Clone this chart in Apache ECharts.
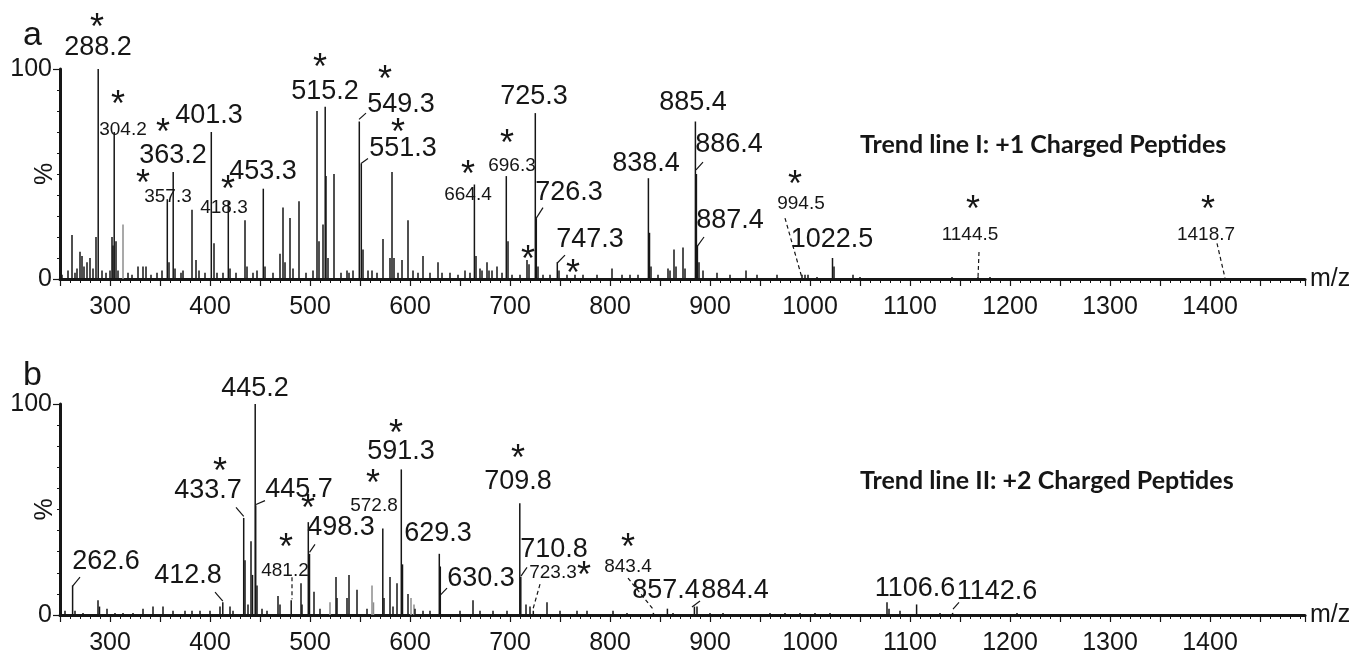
<!DOCTYPE html>
<html>
<head>
<meta charset="utf-8">
<script src="https://cdn.jsdelivr.net/npm/echarts@6/dist/echarts.min.js"></script>
<style>
  html, body { margin: 0; padding: 0; background: #fff; }
  #chart { width: 1358px; height: 656px; }
</style>
</head>
<body>
<div id="chart"></div>
<script>
  // panel a: +1 charged peptides, [m/z, relative intensity %]
  const peaksA = [
    [252, 2], [258, 4], [262, 21], [265, 3], [267, 5], [270, 13], [272, 11], [274, 6], [277, 8], [280, 10],
    [283, 5], [286, 20], [288.2, 100], [292, 4], [296, 3], [300, 4], [302, 20], [303, 16], [304.2, 70], [306, 18],
    [308, 4], [318, 3], [322, 2], [328, 6], [333, 6], [336, 6], [341, 2], [347, 3], [352, 4], [357.3, 38],
    [359, 8], [363.2, 51], [365, 5], [371, 3], [373, 4], [382, 33], [386, 9], [389, 4], [395, 3], [401.3, 70],
    [404, 17], [407, 3], [413, 3], [418.3, 37], [420, 5], [426, 3], [435, 28], [437, 6], [443, 3], [447, 4],
    [453.3, 43], [455, 6], [463, 3], [470, 12], [473, 34], [475, 8], [480, 29], [483, 5], [489, 37], [496, 3],
    [503, 4], [507, 80], [509, 18], [513, 26], [515.2, 82], [516, 49], [518, 10], [524, 50], [531, 3], [537, 4],
    [539, 3], [543, 4], [549.3, 75], [551.3, 55], [553, 14], [558, 4], [562, 4], [567, 3], [573, 19], [580, 10],
    [582, 51], [584, 10], [588, 3], [592, 9], [598, 28], [603, 4], [608, 3], [613, 11], [620, 3], [628, 8],
    [632, 3], [640, 3], [648, 2], [655, 4], [660, 3], [664.4, 45], [666, 11], [670, 5], [672, 4], [677, 8],
    [679, 4], [682, 4], [687, 6], [692, 3], [696.3, 49], [698, 18], [702, 2], [710, 2], [717, 9], [719, 7],
    [725.3, 79], [726.3, 29], [728, 6], [733, 2], [740, 2], [747.3, 8], [749, 4], [757, 2], [765, 2], [773, 2],
    [787, 2], [802, 5], [812, 2], [820, 2], [828, 2], [838.4, 48], [839.5, 22], [841, 6], [848, 2], [858, 5],
    [860, 4], [864, 14], [866, 6], [873, 15], [875, 5], [885.4, 75], [886.4, 50], [887.4, 16], [889, 8], [893, 4],
    [907, 3], [920, 2], [936, 4], [947, 2], [967, 2], [992, 2], [995, 2], [998, 2], [1007, 1], [1022.5, 10],
    [1024, 6], [1043, 2], [1050, 1], [1142, 1], [1168, 1], [1180, 1]
  ];
  const greyA = [[313, 26]];

  // panel b: +2 charged peptides
  const peaksB = [
    [255, 2], [262.6, 14], [265, 2], [273, 1], [288, 7], [289.5, 4], [297, 3], [305, 1], [313, 1], [323, 1],
    [333, 3], [343, 4], [353, 4], [363, 2], [375, 2], [382, 2], [390, 2], [400, 2], [410, 4], [412.8, 6],
    [420, 4], [423, 2], [433.7, 46], [435, 26], [438, 5], [441, 35], [442.5, 19], [445.2, 100], [445.7, 52], [447, 14],
    [452, 3], [457, 2], [468, 9], [470, 5], [481.2, 7], [491, 15], [492, 5], [498.3, 44], [499.5, 29], [504, 11],
    [510, 3], [526, 18], [527, 8], [537, 8], [539, 19], [547, 12], [557, 3], [572.8, 41], [574, 8], [580, 18],
    [583, 4], [587, 15], [591.3, 69], [592.5, 24], [598, 10], [605, 3], [613, 2], [620, 2], [629.3, 29], [630.3, 23],
    [650, 2], [663, 7], [670, 2], [683, 2], [697, 2], [709.8, 53], [710.8, 18], [716, 5], [720, 4], [723.3, 2],
    [737, 6], [750, 2], [767, 2], [777, 2], [803, 2], [817, 1], [843.4, 1], [857.4, 3], [863, 1], [884.4, 4],
    [887, 4], [900, 1], [913, 1], [960, 1], [975, 1], [990, 1], [1005, 1], [1020, 1], [1077, 6], [1079, 3],
    [1090, 2], [1106.6, 5], [1130, 1], [1142.6, 1], [1207, 1]
  ];
  const greyB = [[520, 6], [562, 14], [563.5, 6], [601, 8], [604, 5]];

  const xTicks = [300, 400, 500, 600, 700, 800, 900, 1000, 1100, 1200, 1300, 1400];
  const yTicks = [0, 100];

  // peak annotations: label text, where the label sits (axis units), star, leader line
  const notesA = [
    { t: '288.2', at: [288, 110], star: [287, 123] },
    { t: '304.2', at: [313, 71], small: true, star: [308, 86] },
    { t: '401.3', at: [399, 78] },
    { t: '363.2', at: [363, 59], star: [353, 73] },
    { t: '357.3', at: [358, 39], small: true, star: [333, 48.5] },
    { t: '418.3', at: [414, 34], small: true, star: [418, 45.5] },
    { t: '453.3', at: [453, 51] },
    { t: '515.2', at: [515, 89.5], star: [510, 104] },
    { t: '549.3', at: [591, 83], star: [575, 98], lead: [[549, 76], [556, 79]] },
    { t: '551.3', at: [593, 62], star: [588, 73], lead: [[551, 55], [558, 57.4]] },
    { t: '664.4', at: [658, 40], small: true, star: [658, 53] },
    { t: '696.3', at: [702, 54], small: true, star: [697, 67.6] },
    { t: '725.3', at: [724, 87] },
    { t: '726.3', at: [759, 41], lead: [[726.3, 29], [733, 34]] },
    { t: '', at: [718, 12.4], star: [718, 12.4] },
    { t: '747.3', at: [780, 19], lead: [[747.3, 7.6], [755, 11.4]] },
    { t: '', at: [763, 5.7], star: [763, 5.7] },
    { t: '838.4', at: [836, 55] },
    { t: '885.4', at: [883, 84] },
    { t: '886.4', at: [919, 64], lead: [[886, 52], [893, 55.7]] },
    { t: '887.4', at: [920, 27.6], lead: [[887.4, 15.7], [894, 20]] },
    { t: '994.5', at: [991, 35.7], small: true, star: [985, 48], lead: [[975, 29], [992, 0.5]], dash: true },
    { t: '1022.5', at: [1022, 18.6] },
    { t: '1144.5', at: [1160, 21], small: true, star: [1163, 36], lead: [[1169, 12.9], [1168, 0.5]], dash: true },
    { t: '1418.7', at: [1396, 21], small: true, star: [1398, 36], lead: [[1407, 17], [1415, 0.5]], dash: true }
  ];
  const notesB = [
    { t: '262.6', at: [296, 25.5], lead: [[262.6, 13.7], [270, 17.9]] },
    { t: '412.8', at: [378, 18.9], lead: [[412.8, 6.6], [405, 10.8]] },
    { t: '433.7', at: [398, 59], star: [410, 71], lead: [[433.7, 46.7], [426, 51]] },
    { t: '445.2', at: [445, 107.5] },
    { t: '445.7', at: [489, 59.4], lead: [[446, 52.4], [455, 54.2]] },
    { t: '498.3', at: [531, 41.5], star: [498, 53.3], lead: [[499.5, 29.7], [505, 33.5]] },
    { t: '481.2', at: [475, 21.2], small: true, star: [476, 35], lead: [[482, 17.9], [482, 7.5]], dash: true },
    { t: '572.8', at: [564, 52], small: true, star: [563, 65.6] },
    { t: '591.3', at: [591, 77.4], star: [586, 89] },
    { t: '629.3', at: [628, 38.7] },
    { t: '630.3', at: [671, 17.5], lead: [[630.3, 9.4], [637, 12.7]] },
    { t: '709.8', at: [708, 63.2], star: [708, 77.4] },
    { t: '710.8', at: [744, 31], lead: [[711, 18.4], [717, 22.6]] },
    { t: '723.3', at: [743, 19.8], small: true, lead: [[730, 14.6], [723, 2.8]], dash: true },
    { t: '', at: [774, 21.7], star: [774, 21.7] },
    { t: '843.4', at: [818, 23], small: true, star: [818, 35], lead: [[818, 17.5], [843, 2.8]], dash: true },
    { t: '857.4', at: [856, 11.8] },
    { t: '884.4', at: [925, 11.8], lead: [[882, 3.8], [890, 6.6]] },
    { t: '1106.6', at: [1105, 12.7] },
    { t: '1142.6', at: [1187, 11.3], lead: [[1143, 2.8], [1149, 6]] }
  ];

  const ink = '#161616';
  const numFont = '"Liberation Sans", Arial, sans-serif';

  const stick = (color) => (params, api) => {
    const top = api.coord([api.value(0), api.value(1)]);
    const base = api.coord([api.value(0), 0]);
    return {
      type: 'line',
      shape: { x1: base[0], y1: base[1], x2: top[0], y2: top[1] },
      style: { stroke: color, lineWidth: 1.5 }
    };
  };

  const noteRender = (notes) => (params, api) => {
    const n = notes[api.value(2)];
    const children = [];
    if (n.lead) {
      const p1 = api.coord(n.lead[0]);
      const p2 = api.coord(n.lead[1]);
      children.push({
        type: 'line',
        shape: { x1: p1[0], y1: p1[1], x2: p2[0], y2: p2[1] },
        style: { stroke: ink, lineWidth: 1.2, lineDash: n.dash ? [4, 3] : null }
      });
    }
    if (n.t) {
      const p = api.coord(n.at);
      children.push({
        type: 'text',
        style: {
          text: n.t, x: p[0], y: p[1],
          font: (n.small ? '19px ' : '27px ') + numFont,
          fill: ink, align: 'center', verticalAlign: 'middle'
        }
      });
    }
    if (n.star) {
      const s = api.coord(n.star);
      children.push({
        type: 'text',
        style: {
          text: '*', x: s[0], y: s[1] + 8,
          font: '36px ' + numFont,
          fill: ink, align: 'center', verticalAlign: 'middle'
        }
      });
    }
    return { type: 'group', children };
  };

  const xAxisBase = (gridIndex) => ({
    type: 'value',
    gridIndex,
    min: 250,
    max: 1495,
    interval: 50,
    name: 'm/z',
    nameLocation: 'end',
    nameGap: 5,
    nameMoveOverlap: false,
    nameTextStyle: { fontFamily: numFont, fontSize: 25, color: ink },
    axisLine: { show: true, lineStyle: { color: ink, width: 3 } },
    axisTick: { show: true, length: 7, lineStyle: { color: ink, width: 1.2 } },
    minorTick: { show: true, splitNumber: 5, length: 4, lineStyle: { color: ink, width: 1 } },
    splitLine: { show: false },
    axisLabel: {
      margin: 16,
      fontFamily: numFont, fontSize: 25, color: ink,
      formatter: (v) => (xTicks.includes(v) ? String(v) : '')
    }
  });

  const yAxisBase = (gridIndex) => ({
    type: 'value',
    gridIndex,
    min: 0,
    max: 100,
    interval: 100,
    name: '%',
    nameLocation: 'middle',
    nameRotate: 90,
    nameGap: 2,
    nameMoveOverlap: false,
    nameTextStyle: { fontFamily: numFont, fontSize: 25, color: ink },
    axisLine: { show: true, lineStyle: { color: ink, width: 3 } },
    axisTick: { show: true, length: 7, lineStyle: { color: ink, width: 1.2 } },
    minorTick: { show: true, splitNumber: 10, length: 3, lineStyle: { color: ink, width: 1 } },
    splitLine: { show: false },
    axisLabel: {
      margin: 8,
      fontFamily: numFont, fontSize: 25, color: ink,
      formatter: (v) => (yTicks.includes(v) ? String(v) : '')
    }
  });

  const chart = echarts.init(document.getElementById('chart'));
  chart.setOption({
    animation: false,
    backgroundColor: '#fff',
    title: [
      { text: 'a', left: 18, top: 14, textStyle: { fontFamily: numFont, fontSize: 34, fontWeight: 'normal', color: ink } },
      { text: 'b', left: 18, top: 354, textStyle: { fontFamily: numFont, fontSize: 34, fontWeight: 'normal', color: ink } },
      { text: 'Trend line I: +1 Charged Peptides', left: 855, top: 127, textStyle: { fontFamily: 'Lato', fontSize: 25, fontWeight: 'bold', color: ink } },
      { text: 'Trend line II: +2 Charged Peptides', left: 855, top: 463, textStyle: { fontFamily: 'Lato', fontSize: 25, fontWeight: 'bold', color: ink } }
    ],
    grid: [
      { left: 60, right: 53, top: 69, height: 210, outerBoundsMode: 'none', containLabel: false },
      { left: 60, right: 53, top: 404, height: 211, outerBoundsMode: 'none', containLabel: false }
    ],
    xAxis: [xAxisBase(0), xAxisBase(1)],
    yAxis: [yAxisBase(0), yAxisBase(1)],
    series: [
      { type: 'custom', xAxisIndex: 0, yAxisIndex: 0, renderItem: stick('#8c8c8c'), data: greyA, encode: { x: 0, y: 1 } },
      { type: 'custom', xAxisIndex: 0, yAxisIndex: 0, renderItem: stick(ink), data: peaksA, encode: { x: 0, y: 1 } },
      { type: 'custom', xAxisIndex: 1, yAxisIndex: 1, renderItem: stick('#8c8c8c'), data: greyB, encode: { x: 0, y: 1 } },
      { type: 'custom', xAxisIndex: 1, yAxisIndex: 1, renderItem: stick(ink), data: peaksB, encode: { x: 0, y: 1 } },
      {
        type: 'custom', xAxisIndex: 0, yAxisIndex: 0, silent: true,
        renderItem: noteRender(notesA),
        data: notesA.map((n, i) => [n.at[0], n.at[1], i])
      },
      {
        type: 'custom', xAxisIndex: 1, yAxisIndex: 1, silent: true,
        renderItem: noteRender(notesB),
        data: notesB.map((n, i) => [n.at[0], n.at[1], i])
      }
    ]
  });
</script>
</body>
</html>
